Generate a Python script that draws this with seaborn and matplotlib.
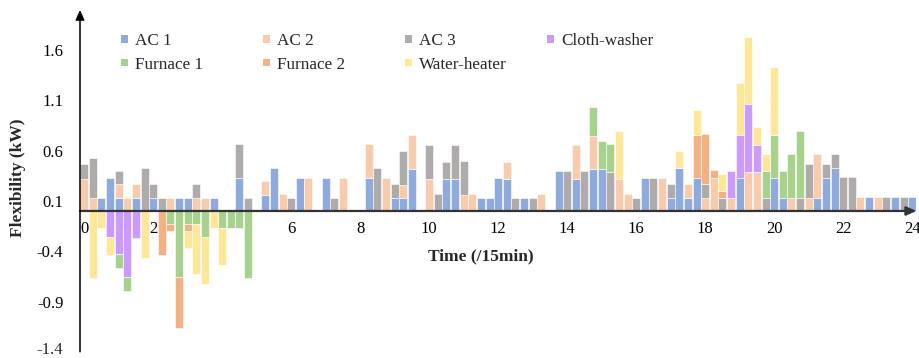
import numpy as np
import pandas as pd
import matplotlib
matplotlib.use('Agg')
import matplotlib.pyplot as plt
from matplotlib.patches import Patch
import seaborn as sns

sns.set_theme(style='white')
plt.rcParams['font.family'] = ['Liberation Serif', 'DejaVu Serif']
plt.rcParams['axes.unicode_minus'] = False

# one value per 15-min slot, 0..24 h (97 slots), kW
appliances = ['AC 1', 'AC 2', 'AC 3', 'Cloth-washer', 'Furnace 1', 'Furnace 2', 'Water-heater']
colors = ['#8FAADC', '#F8CBAD', '#AFABAB', '#CC99FF', '#A9D18E', '#F4B183', '#FFE699']

ac1 = [0, 0, .13, .33, .13, 0, .13, 0, .13, 0, 0, .13, .13, 0, 0, .13,
       0, 0, .33, 0, 0, .16, .43, 0, 0, .33, 0, 0, .33, 0, 0, 0,
       0, .33, 0, 0, .13, .13, .42, 0, 0, 0, .32, .32, 0, 0, .13, .13,
       .33, .32, 0, .13, 0, 0, 0, .40, 0, .32, 0, .42, .42, 0, 0, 0,
       0, .33, 0, 0, .13, .43, .13, .33, 0, 0, 0, 0, .33, 0, 0, 0,
       .33, .13, 0, 0, 0, .13, .33, .43, 0, 0, 0, .14, 0, 0, .14, 0,
       .14]
ac2 = [.32, .13, 0, 0, .14, .13, .14, 0, 0, 0, .13, 0, 0, .13, .13, 0,
       0, 0, 0, 0, 0, .14, 0, .17, 0, 0, .33, 0, 0, 0, .33, 0,
       0, .34, 0, .33, 0, .13, .34, 0, .32, 0, 0, 0, .16, .17, 0, 0,
       0, .17, 0, 0, 0, .17, 0, 0, 0, .34, 0, .33, 0, 0, .32, .17,
       0, 0, 0, .33, 0, 0, .14, 0, .13, .33, 0, .13, 0, .39, .39, 0,
       0, 0, .13, 0, .13, .44, 0, 0, 0, 0, .14, 0, .14, 0, 0, 0,
       0]
ac3 = [.15, .40, 0, 0, .13, 0, 0, .43, .14, .13, 0, 0, 0, .14, 0, 0,
       0, 0, .34, .13, 0, 0, 0, 0, .13, 0, 0, 0, 0, .13, 0, 0,
       0, 0, .43, 0, .14, .34, 0, 0, .34, .17, .17, .34, .34, 0, 0, 0,
       0, 0, .13, 0, .13, 0, 0, 0, .40, 0, .40, 0, 0, .39, 0, 0,
       .13, 0, .33, 0, .14, 0, 0, 0, .14, 0, .13, 0, 0, 0, 0, .13,
       0, 0, 0, .13, .34, 0, .14, .14, .34, .34, 0, 0, 0, .14, 0, .14,
       0]
cloth_washer = [0, 0, 0, -.26, -.43, -.66, -.27, 0, 0, 0, 0, 0, 0, 0, 0, 0,
                0, 0, 0, 0, 0, 0, 0, 0, 0, 0, 0, 0, 0, 0, 0, 0,
                0, 0, 0, 0, 0, 0, 0, 0, 0, 0, 0, 0, 0, 0, 0, 0,
                0, 0, 0, 0, 0, 0, 0, 0, 0, 0, 0, 0, 0, 0, 0, 0,
                0, 0, 0, 0, 0, 0, 0, 0, 0, 0, 0, .27, .43, .67, .27, 0,
                0, 0, 0, 0, 0, 0, 0, 0, 0, 0, 0, 0, 0, 0, 0, 0,
                0]
furnace1 = [0, 0, 0, 0, -.14, -.14, 0, 0, 0, 0, -.13, -.66, -.13, -.13, -.26, 0,
            -.17, -.17, -.17, -.67, 0, 0, 0, 0, 0, 0, 0, 0, 0, 0, 0, 0,
            0, 0, 0, 0, 0, 0, 0, 0, 0, 0, 0, 0, 0, 0, 0, 0,
            0, 0, 0, 0, 0, 0, 0, 0, 0, 0, 0, .28, .28, .28, 0, 0,
            0, 0, 0, 0, 0, 0, 0, 0, 0, 0, 0, 0, 0, 0, 0, .27,
            .43, .27, .44, .67, 0, 0, 0, 0, 0, 0, 0, 0, 0, 0, 0, 0,
            0]
furnace2 = [0, 0, 0, 0, 0, 0, 0, 0, 0, -.44, -.07, -.50, -.07, 0, 0, 0,
            0, 0, 0, 0, 0, 0, 0, 0, 0, 0, 0, 0, 0, 0, 0, 0,
            0, 0, 0, 0, 0, 0, 0, 0, 0, 0, 0, 0, 0, 0, 0, 0,
            0, 0, 0, 0, 0, 0, 0, 0, 0, 0, 0, 0, 0, 0, 0, 0,
            0, 0, 0, 0, 0, 0, 0, .43, .50, .08, .07, 0, 0, 0, 0, 0,
            0, 0, 0, 0, 0, 0, 0, 0, 0, 0, 0, 0, 0, 0, 0, 0,
            0]
water_heater = [0, -.67, -.17, -.18, 0, 0, 0, -.47, 0, 0, 0, 0, -.17, -.50, -.47, -.17,
                -.37, 0, 0, 0, 0, 0, 0, 0, 0, 0, 0, 0, 0, 0, 0, 0,
                0, 0, 0, 0, 0, 0, 0, 0, 0, 0, 0, 0, 0, 0, 0, 0,
                0, 0, 0, 0, 0, 0, 0, 0, 0, 0, 0, 0, 0, 0, .48, 0,
                0, 0, 0, 0, 0, .17, 0, .24, 0, 0, .17, 0, .51, .67, .17, .17,
                .67, 0, 0, 0, 0, 0, 0, 0, 0, 0, 0, 0, 0, 0, 0, 0,
                0]

y_ticks = [-1.4, -0.9, -0.4, 0.1, 0.6, 1.1, 1.6]
x_ticks = [0, 2, 4, 6, 8, 10, 12, 14, 16, 18, 20, 22, 24]

hours = np.arange(len(ac1)) / 4
df = pd.DataFrame(dict(zip(appliances, [ac1, ac2, ac3, cloth_washer,
                                         furnace1, furnace2, water_heater])),
                  index=hours)

fig = plt.figure(figsize=(9.2, 3.58), dpi=100)
xmin, xmax = -0.122, 24.125
ymin, ymax = -1.4, 2.0
ax = fig.add_axes([80 / 920, 6.2 / 358, 836.5 / 920, 342 / 358])
ax.set_xlim(xmin, xmax)
ax.set_ylim(ymin, ymax)

# stacked bars, positive parts up from zero, negative parts down from zero
pos_base = np.zeros(len(df))
neg_base = np.zeros(len(df))
for name, color in zip(appliances, colors):
    vals = df[name].to_numpy()
    up = np.clip(vals, 0, None)
    down = np.clip(vals, None, 0)
    m = up > 0
    ax.bar(df.index[m], up[m], width=0.23, bottom=pos_base[m], color=color,
           edgecolor='white', linewidth=0.4)
    m = down < 0
    ax.bar(df.index[m], down[m], width=0.23, bottom=neg_base[m], color=color,
           edgecolor='white', linewidth=0.4)
    pos_base += up
    neg_base += down

# axes drawn as arrows like the original
for s in ax.spines.values():
    s.set_visible(False)
ax.spines['bottom'].set_position(('data', 0))
ax.annotate('', xy=(xmax, 0), xytext=(xmin, 0), annotation_clip=False,
            arrowprops=dict(arrowstyle='-|>,head_length=0.5,head_width=0.22',
                            lw=1.6, color='#333333', shrinkA=0, shrinkB=0,
                            mutation_scale=12), zorder=5)
ax.annotate('', xy=(xmin, ymax), xytext=(xmin, ymin), annotation_clip=False,
            arrowprops=dict(arrowstyle='-|>,head_length=0.5,head_width=0.22',
                            lw=1.1, color='black', shrinkA=0, shrinkB=0,
                            mutation_scale=12), zorder=5)

ax.set_yticks(y_ticks)
# lowest label sits on the figure edge, so it is placed by hand below
ax.set_yticklabels([''] + ['%.1f' % v for v in y_ticks[1:]])
ax.set_xticks(x_ticks)
ax.set_xticklabels([str(v) for v in x_ticks])
ax.tick_params(axis='y', length=0, pad=12, labelsize=12, labelcolor='black')
ax.tick_params(axis='x', length=0, pad=7.5, labelsize=12, labelcolor='black')
ax.grid(False)
fig.text(63 / 920, 0.5 / 358, '%.1f' % y_ticks[0], ha='right', va='bottom',
         fontsize=12)

fig.text(18 / 920, 1 - 178 / 358, 'Flexibility (kW)', rotation=90, ha='center',
         va='center', fontsize=12.5, fontweight='bold')
fig.text(481 / 920, 1 - 256 / 358, 'Time (/15min)', ha='center', va='center',
         fontsize=12.5, fontweight='bold')

# legend: 4 fixed-width columns, 2 rows
handles = [Patch(facecolor=c, edgecolor='none') for c in colors]
columns = [[0, 4], [1, 5], [2, 6], [3]]
col_x = [121, 263, 405, 547]
for cols, x in zip(columns, col_x):
    fig.legend([handles[i] for i in cols], [appliances[i] for i in cols],
               loc='upper left', bbox_to_anchor=(x / 920, 1 - 33 / 358),
               frameon=False, fontsize=12.3, borderpad=0, borderaxespad=0,
               handlelength=0.42, handleheight=0.3, handletextpad=0.4,
               labelspacing=0.45)

fig.savefig('out.png', dpi=100)
